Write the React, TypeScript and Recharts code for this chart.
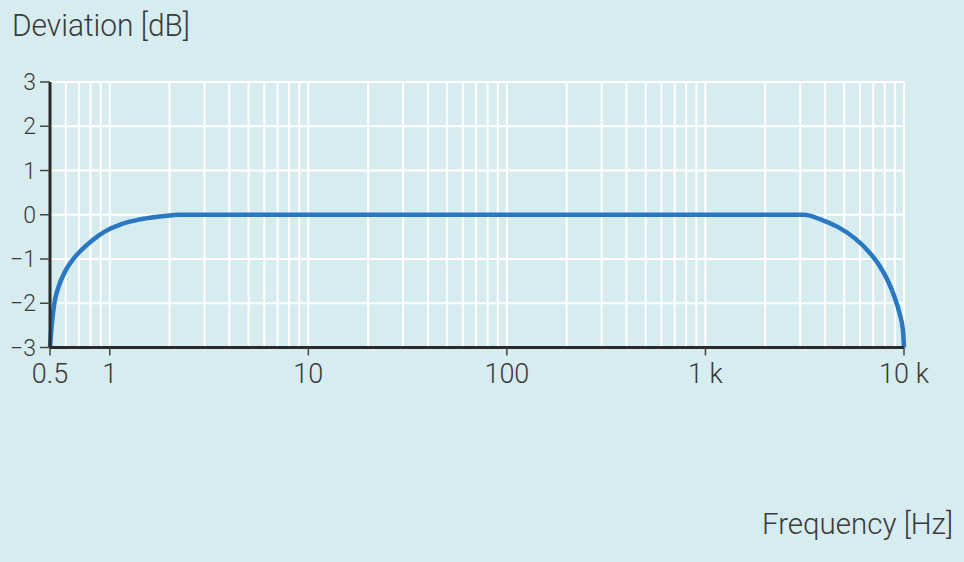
import React from 'react';
import { LineChart, Line, XAxis, YAxis, CartesianGrid } from 'recharts';

// Frequency response
const freqHz = [0.5, 0.51, 0.526, 0.552, 0.596, 0.655, 0.719, 0.815, 0.952, 1.146, 1.4, 1.7, 2.0, 2.2, 10, 100, 1000, 3140, 3820, 4660, 5680, 6660, 7500, 8270, 8960, 9500, 9880, 10000];
const deviationDb = [-3, -2.5, -2.0, -1.63, -1.28, -1.0, -0.8, -0.58, -0.37, -0.21, -0.11, -0.05, -0.015, 0, 0, 0, 0, 0, -0.11, -0.28, -0.54, -0.84, -1.14, -1.48, -1.86, -2.23, -2.61, -3];

// Axis ticks and labels
const xTicks = [0.5, 1, 10, 100, 1000, 10000];
const xTickLabels = ['0.5', '1', '10', '100', '1 k', '10 k'];
const yTicks = [-3, -2, -1, 0, 1, 2, 3];

// Log grid lines
const xGrid = [
  0.6, 0.7, 0.8, 0.9, 1,
  2, 3, 4, 5, 6, 7, 8, 9, 10,
  20, 30, 40, 50, 60, 70, 80, 90, 100,
  200, 300, 400, 500, 600, 700, 800, 900, 1000,
  2000, 3000, 4000, 5000, 6000, 7000, 8000, 9000, 10000,
];
const yGrid = [-2, -1, 0, 1, 2, 3];

const yTitle = 'Deviation [dB]';
const xTitle = 'Frequency [Hz]';

const data = freqHz.map((f, i) => ({ f, dev: deviationDb[i] }));

const BG = '#d6ecef';
const TEXT = '#3a3a3a';
const AXIS = '#2a2a2a';
const FONT = 'Roboto, "Noto Sans", sans-serif';
const WEIGHT = 300;

const fmtX = (v: number) => {
  const i = xTicks.indexOf(v);
  return i >= 0 ? xTickLabels[i] : String(v);
};
const fmtY = (v: number) => (v < 0 ? '\u2212' + Math.abs(v) : String(v));

export default function App() {
  return (
    <div style={{ position: 'absolute', left: 0, top: 0, width: 964, height: 562, background: BG, fontFamily: FONT }}>
      <LineChart
        width={964}
        height={562}
        data={data}
        margin={{ top: 82, right: 60, bottom: 174.5, left: 0 }}
        style={{ fontFamily: FONT }}
      >
        <CartesianGrid
          stroke="#ffffff"
          strokeWidth={2}
          horizontalValues={yGrid}
          verticalValues={xGrid}
        />
        <XAxis
          dataKey="f"
          type="number"
          scale="log"
          domain={[0.5, 10000]}
          ticks={xTicks}
          tickFormatter={fmtX}
          interval={0}
          height={40}
          axisLine={{ stroke: AXIS, strokeWidth: 3 }}
          tickLine={{ stroke: '#444', strokeWidth: 1.5 }}
          tickSize={8}
          tickMargin={8}
          tick={{ fill: TEXT, fontSize: 27, fontFamily: FONT, fontWeight: WEIGHT }}
        />
        <YAxis
          type="number"
          domain={[-3, 3]}
          ticks={yTicks}
          tickFormatter={fmtY}
          interval={0}
          width={50}
          axisLine={{ stroke: AXIS, strokeWidth: 3 }}
          tickLine={{ stroke: '#444', strokeWidth: 1.5 }}
          tickSize={10}
          tickMargin={4}
          tick={{ fill: TEXT, fontSize: 23, fontFamily: FONT, fontWeight: WEIGHT }}
        />
        <Line
          type="monotone"
          dataKey="dev"
          stroke="#2a77c2"
          strokeWidth={4.5}
          dot={false}
          activeDot={false}
          isAnimationActive={false}
        />
      </LineChart>
      <svg
        width={964}
        height={562}
        style={{ position: 'absolute', left: 0, top: 0, pointerEvents: 'none' }}
      >
        <text x={12} y={36} fontSize={32} fill={TEXT} fontFamily={FONT} fontWeight={WEIGHT} textLength={178} lengthAdjust="spacingAndGlyphs">
          {yTitle}
        </text>
        <text x={953} y={534} textAnchor="end" fontSize={30} fill={TEXT} fontFamily={FONT} fontWeight={WEIGHT} textLength={191} lengthAdjust="spacingAndGlyphs">
          {xTitle}
        </text>
      </svg>
    </div>
  );
}
